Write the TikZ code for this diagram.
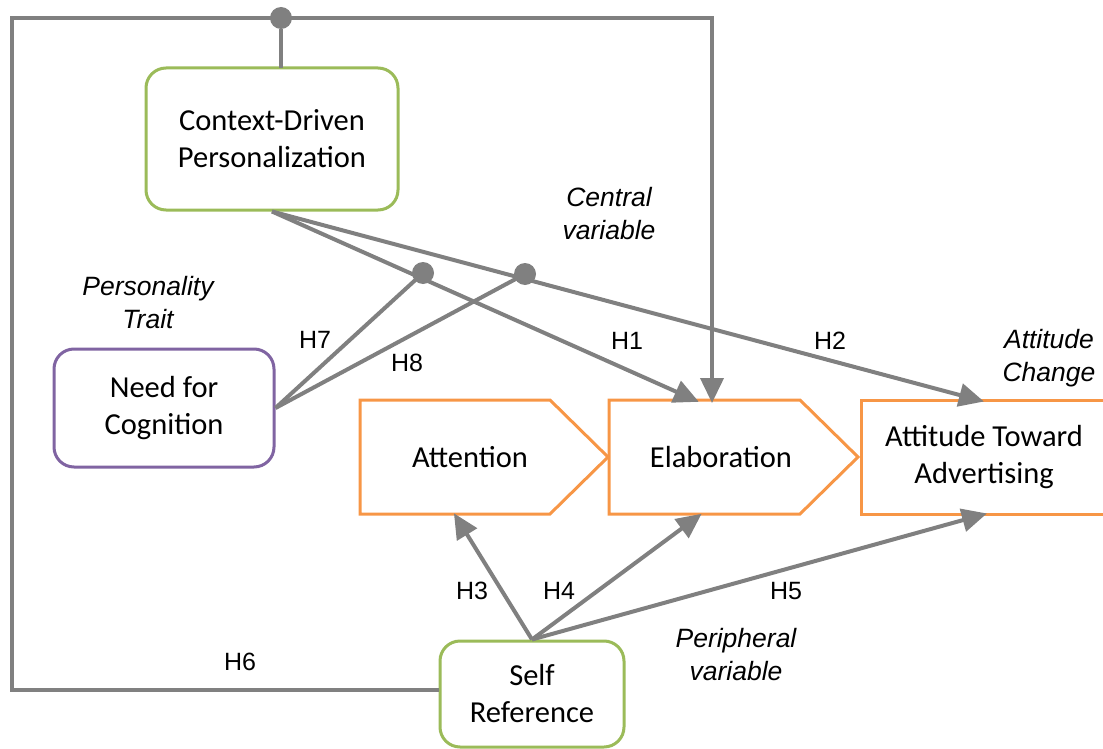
\documentclass[tikz,border=0pt]{standalone}
\usepackage{fontspec}
\setmainfont{Carlito}
\newfontfamily\arialf{Liberation Sans}
\usetikzlibrary{arrows.meta}
\definecolor{cgray}{RGB}{128,128,128}
\definecolor{cgreen}{RGB}{155,187,89}
\definecolor{cpurple}{RGB}{128,100,162}
\definecolor{corange}{RGB}{247,150,70}
\tikzset{
  x=1pt, y=-1pt,
  rbox/.style={draw, line width=3pt, rounded corners=20pt, fill=white, align=center,
    font=\fontsize{30.5}{37}\selectfont, inner sep=0pt},
  greenbox/.style={rbox, draw=cgreen},
  purplebox/.style={rbox, draw=cpurple},
  orangeline/.style={draw=corange, line width=3pt, line join=miter},
  boxtext/.style={align=center, font=\fontsize{30.5}{37}\selectfont, inner sep=0pt},
  conn/.style={draw=cgray, line width=4pt},
  arr/.style={conn, -{Triangle[length=25pt,width=23pt]}, shorten >=-2pt},
  hlab/.style={font=\arialf\fontsize{25}{30}\selectfont, inner sep=0pt},
  ilab/.style={font=\arialf\itshape\fontsize{26.5}{33}\selectfont, align=center, inner sep=0pt},
  jdot/.style={circle, fill=cgray, minimum size=22pt, inner sep=0pt},
}
\begin{document}
\begin{tikzpicture}
\useasboundingbox (0,0) rectangle (1103,749);
% boxes
\node[greenbox, minimum width=252pt, minimum height=142pt] (ctx) at (272,139) {Context-Driven\\Personalization};
\node[purplebox, minimum width=220pt, minimum height=118pt] (nfc) at (164,408) {Need for\\Cognition};
\node[greenbox, minimum width=184pt, minimum height=106pt] (sr) at (532,694) {Self\\Reference};
% orange shapes
\draw[orangeline] (360,400) -- (550,400) -- (608,457) -- (550,514) -- (360,514) -- cycle;
\draw[orangeline] (609,400) -- (800,400) -- (858,457) -- (800,514) -- (609,514) -- cycle;
\draw[orangeline] (1110,400) -- (861,400) -- (861,514) -- (1110,514);
\node[boxtext] (att) at (470,457) {Attention};
\node[boxtext] (ela) at (721,457) {Elaboration};
\node[boxtext] (atd) at (984,457) {Attitude Toward\\Advertising};
% anchor coordinates on shapes
\coordinate (elaTopA) at (697,401);
\coordinate (elaTopB) at (712,401);
\coordinate (atdTop) at (982,401);
\coordinate (attBot) at (455,515);
\coordinate (elaBot) at (700,515);
\coordinate (atdBot) at (985,514);
\coordinate (ctxTop) at (281,68);
\coordinate (c1) at (12,690);
\coordinate (c2) at (12,18);
\coordinate (c3) at (712,18);
% junction dots
\node[jdot] (topdot) at (281,18) {};
\node[jdot] (d1) at (423,273) {};
\node[jdot] (d2) at (525,274) {};
% outer frame
\draw[conn, line join=miter] (sr.west |- c1) -- (c1) -- (c2) -- (c3) -- ++(0,340);
\draw[arr] (c3) -- (elaTopB);
\draw[conn] (topdot) -- (ctxTop);
% context arrows
\draw[arr] (ctx.south) -- (elaTopA);
\draw[arr] (ctx.south) -- (atdTop);
% NfC moderators
\draw[conn] (nfc.east) -- (d1.center);
\draw[conn] (nfc.east) -- (d2.center);
% self reference arrows
\draw[arr] (sr.north) -- (attBot);
\draw[arr] (sr.north) -- (elaBot);
\draw[arr] (sr.north) -- (atdBot);
% labels
\node[hlab] (h7) at (315,340) {H7};
\node[hlab] (h8) at (407,363) {H8};
\node[hlab] (h1) at (627,341) {H1};
\node[hlab] (h2) at (830,341) {H2};
\node[hlab] (h3) at (472,591) {H3};
\node[hlab] (h4) at (559,591) {H4};
\node[hlab] (h5) at (786,591) {H5};
\node[hlab] (h6) at (240,662) {H6};
\node[ilab] (l1) at (148,303) {Personality\\Trait};
\node[ilab] (l2) at (609,214) {Central\\variable};
\node[ilab] (l3) at (1049,358) {Attitude\\Change};
\node[ilab] (l4) at (736,655) {Peripheral\\variable};
\end{tikzpicture}
\end{document}
